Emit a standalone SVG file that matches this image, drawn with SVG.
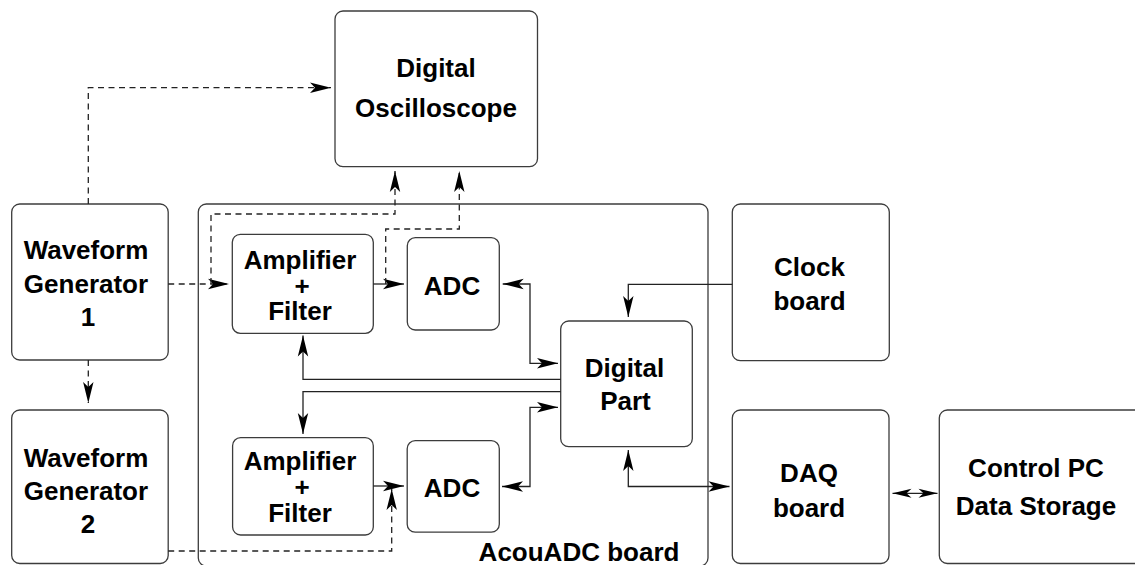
<svg xmlns="http://www.w3.org/2000/svg" width="1135" height="565" viewBox="0 0 1135 565">
<style>
.box{fill:#fff;stroke:#3c3c3c;stroke-width:1.3}
.t{font-family:"Liberation Sans",Arial,sans-serif;font-weight:bold;font-size:26px;fill:#000;text-anchor:middle}
.c{fill:none;stroke:#222;stroke-width:1.3}
.d{fill:none;stroke:#222;stroke-width:1.3;stroke-dasharray:6 4.5}
</style>
<defs>
<marker id="ah" markerUnits="userSpaceOnUse" markerWidth="24" markerHeight="12" viewBox="-23 -6 24 12" refX="0" refY="0" orient="auto-start-reverse">
<path d="M0,0 L-21,-5.2 L-16,0 L-21,5.2 Z" fill="#000"/>
</marker>
<marker id="ahs" markerUnits="userSpaceOnUse" markerWidth="24" markerHeight="12" viewBox="-23 -6 24 12" refX="0" refY="0" orient="auto-start-reverse">
<path d="M0,0 L-19,-4.5 L-14,0 L-19,4.5 Z" fill="#000"/>
</marker>
</defs>
<rect width="1135" height="565" fill="#fff"/>

<g id="acouadc">
<rect class="box" x="198.3" y="204" width="509.7" height="362" rx="8"/>
<text class="t" x="579" y="561">AcouADC board</text>
</g>
<g id="oscilloscope">
<rect class="box" x="335" y="11" width="202.5" height="155.7" rx="8"/>
<text class="t" x="436" y="76.7">Digital</text>
<text class="t" x="436" y="117.3">Oscilloscope</text>
</g>
<g id="wg1">
<rect class="box" x="11.7" y="204" width="156.5" height="156" rx="8"/>
<text class="t" x="86" y="259.3">Waveform</text>
<text class="t" x="86" y="292.7">Generator</text>
<text class="t" x="88" y="326">1</text>
</g>
<g id="wg2">
<rect class="box" x="11.7" y="410" width="156.5" height="153.5" rx="8"/>
<text class="t" x="86" y="466.7">Waveform</text>
<text class="t" x="86" y="500">Generator</text>
<text class="t" x="88" y="533.3">2</text>
</g>
<g id="amp1">
<rect class="box" x="232.3" y="234.3" width="141" height="99" rx="8"/>
<text class="t" x="300" y="269.3">Amplifier</text>
<text class="t" x="302" y="295">+</text>
<text class="t" x="300" y="320">Filter</text>
</g>
<g id="adc1">
<rect class="box" x="407.3" y="237.7" width="92" height="92.3" rx="8"/>
<text class="t" x="452" y="295">ADC</text>
</g>
<g id="amp2">
<rect class="box" x="232.6" y="437.7" width="140.7" height="97.3" rx="8"/>
<text class="t" x="300" y="470">Amplifier</text>
<text class="t" x="302" y="496">+</text>
<text class="t" x="300" y="521.7">Filter</text>
</g>
<g id="adc2">
<rect class="box" x="407.2" y="440.7" width="92.1" height="91.5" rx="8"/>
<text class="t" x="452" y="496.7">ADC</text>
</g>
<g id="digital">
<rect class="box" x="560.7" y="321" width="131.6" height="125.7" rx="8"/>
<text class="t" x="624.5" y="376.7">Digital</text>
<text class="t" x="625.5" y="410">Part</text>
</g>
<g id="clock">
<rect class="box" x="732.3" y="204" width="157" height="156.7" rx="8"/>
<text class="t" x="809.5" y="276">Clock</text>
<text class="t" x="809.5" y="310">board</text>
</g>
<g id="daq">
<rect class="box" x="732.3" y="410" width="156.7" height="153.5" rx="8"/>
<text class="t" x="809" y="481.7">DAQ</text>
<text class="t" x="809" y="516.7">board</text>
</g>
<g id="controlpc">
<rect class="box" x="939.3" y="410" width="220" height="153.5" rx="8"/>
<text class="t" x="1036" y="476.7">Control PC</text>
<text class="t" x="1036" y="515">Data Storage</text>
</g>

<g id="connectors">
<path class="c" d="M373.3,284 H404" marker-end="url(#ah)"/>
<path class="c" d="M502.7,284 H530 V363.3 H558" marker-start="url(#ah)" marker-end="url(#ah)"/>
<path class="c" d="M560.7,379.3 H303 V335.5" marker-end="url(#ah)"/>
<path class="c" d="M560.7,391.6 H303 V434" marker-end="url(#ah)"/>
<path class="c" d="M502,486.5 H530 V407.3 H558" marker-start="url(#ah)" marker-end="url(#ah)"/>
<path class="c" d="M373.3,486 H404" marker-end="url(#ah)"/>
<path class="c" d="M732.3,284.3 H628.3 V317" marker-end="url(#ah)"/>
<path class="c" d="M628.3,450 V486.5 H729.5" marker-start="url(#ah)" marker-end="url(#ah)"/>
<path class="c" d="M892.5,493.3 H937.5" marker-start="url(#ahs)" marker-end="url(#ahs)"/>
<path class="d" d="M88.3,204 V87.7 H331" marker-end="url(#ah)"/>
<path class="d" d="M88.3,360 V403" marker-end="url(#ah)"/>
<path class="d" d="M168.2,284 H229" marker-end="url(#ah)"/>
<path class="d" d="M211,284 V214 H395 V171" marker-end="url(#ah)"/>
<path class="d" d="M385.7,284 V229 H459.3 V171" marker-end="url(#ah)"/>
<path class="d" d="M168.2,551 H391.7 V489" marker-end="url(#ah)"/>
</g>
</svg>
